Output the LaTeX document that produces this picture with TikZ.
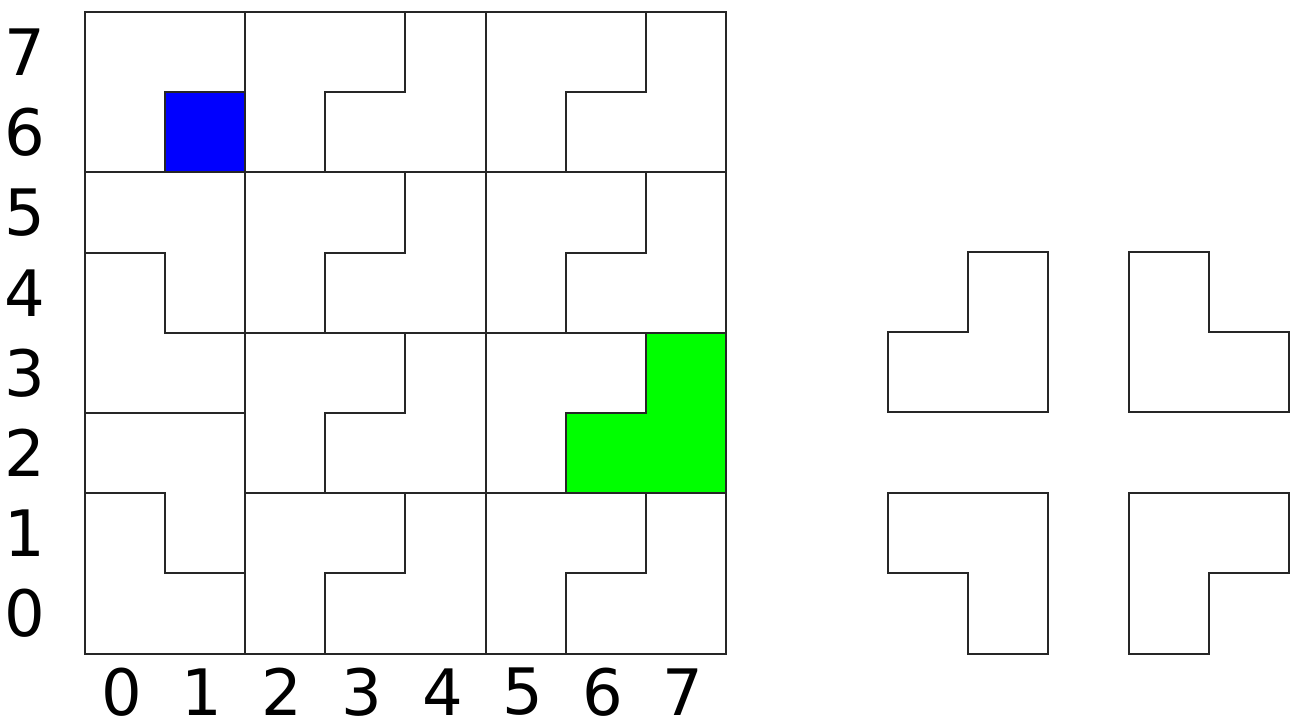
\documentclass[tikz,border=0pt]{standalone}
\usepackage{fontspec}
\setmainfont{DejaVu Sans}
\begin{document}
\begin{tikzpicture}[x=0.5pt,y=-0.5pt,
  tile/.style={draw=black!85,line width=1pt,line join=miter},
  lbl/.style={font=\fontsize{32}{36}\selectfont,inner sep=0pt}]
\useasboundingbox (0,0) rectangle (1290,720);
% labels
\foreach \r in {0,...,7}{
  \node[lbl] (row\r) at (25,{12+40.1+80.2*(7-\r)}) {\r};
  \node[lbl] (col\r) at ({84.5+40.1+80.2*\r-3},692) {\r};
}
\begin{scope}[shift={(84.5,653.6)},x=40.1pt,y=40.1pt]
  % missing square
  \filldraw[tile,fill=blue] (1,6) rectangle (2,7);
  % top-left 2x2 block
  \draw[tile] (0,6)--(1,6)--(1,7)--(2,7)--(2,8)--(0,8)--cycle;
  % left column, rows 0-5
  \draw[tile] (0,5)--(1,5)--(1,4)--(2,4)--(2,6)--(0,6)--cycle;
  \draw[tile] (0,3)--(2,3)--(2,4)--(1,4)--(1,5)--(0,5)--cycle;
  \draw[tile] (0,2)--(1,2)--(1,1)--(2,1)--(2,3)--(0,3)--cycle;
  \draw[tile] (0,0)--(2,0)--(2,1)--(1,1)--(1,2)--(0,2)--cycle;
  % 3x2 blocks
  \foreach \a in {2,5}{
    \foreach \b in {0,2,4,6}{
      \draw[tile] (\a,\b)--++(1,0)--++(0,1)--++(1,0)--++(0,1)--++(-2,0)--cycle;
      \ifnum\a=5 \ifnum\b=2
        \filldraw[tile,fill=green] (\a+1,\b)--++(2,0)--++(0,2)--++(-1,0)--++(0,-1)--++(-1,0)--cycle;
      \else
        \draw[tile] (\a+1,\b)--++(2,0)--++(0,2)--++(-1,0)--++(0,-1)--++(-1,0)--cycle;
      \fi\else
        \draw[tile] (\a+1,\b)--++(2,0)--++(0,2)--++(-1,0)--++(0,-1)--++(-1,0)--cycle;
      \fi
    }
  }
\end{scope}
% four separate trominoes
\begin{scope}[shift={(888,412)},x=40.1pt,y=40.1pt]
  \draw[tile] (1,2)--(2,2)--(2,0)--(0,0)--(0,1)--(1,1)--cycle;
\end{scope}
\begin{scope}[shift={(1128.6,412)},x=40.1pt,y=40.1pt]
  \draw[tile] (0,2)--(1,2)--(1,1)--(2,1)--(2,0)--(0,0)--cycle;
\end{scope}
\begin{scope}[shift={(888,653.6)},x=40.1pt,y=40.1pt]
  \draw[tile] (0,2)--(2,2)--(2,0)--(1,0)--(1,1)--(0,1)--cycle;
\end{scope}
\begin{scope}[shift={(1128.6,653.6)},x=40.1pt,y=40.1pt]
  \draw[tile] (0,2)--(2,2)--(2,1)--(1,1)--(1,0)--(0,0)--cycle;
\end{scope}
\end{tikzpicture}
\end{document}
